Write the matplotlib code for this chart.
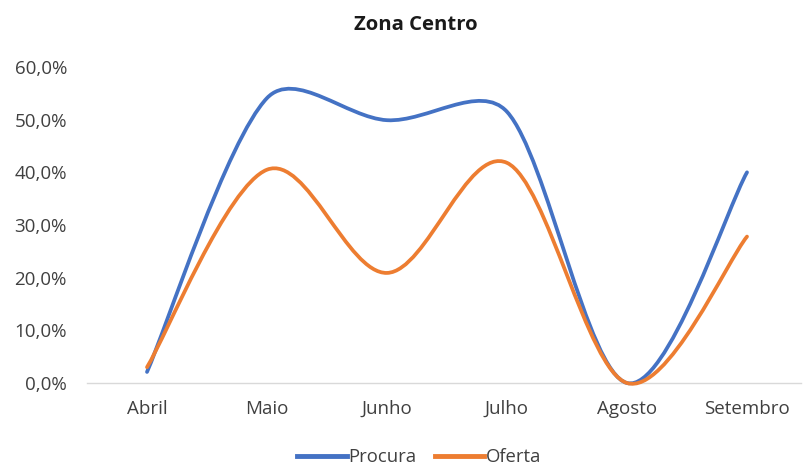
import numpy as np
import matplotlib
matplotlib.use("Agg")
import matplotlib.pyplot as plt
from matplotlib.path import Path
from matplotlib.patches import PathPatch
from matplotlib.lines import Line2D
from matplotlib.ticker import FuncFormatter

plt.rcParams['font.family'] = ['Open Sans', 'DejaVu Sans']

months = ["Abril", "Maio", "Junho", "Julho", "Agosto", "Setembro"]
procura = [0.021, 0.541, 0.499, 0.515, 0.0, 0.40]
oferta = [0.030, 0.405, 0.209, 0.418, 0.0, 0.278]
series_names = ["Procura", "Oferta"]
colors = ["#4472C4", "#ED7D31"]
yticks = [0.0, 0.1, 0.2, 0.3, 0.4, 0.5, 0.6]

fig = plt.figure(figsize=(8.04, 4.65), dpi=100)
ax = fig.add_axes([87/804, 1-383/465, (807-87)/804, (383-67)/465])
ax.set_xlim(-0.5, len(months)-0.5)
ax.set_ylim(0, 0.6)


def smooth_path(xs, ys, ax):
    # Excel-like smoothing: Catmull-Rom tangents, arm length limited by
    # adjacent segment length (display space).
    data = np.column_stack([xs, ys]).astype(float)
    disp = ax.transData.transform(data)
    n = len(disp)
    cin = [None]*n
    cout = [None]*n
    for i in range(n):
        p_prev = disp[i-1] if i > 0 else disp[i]
        p_next = disp[i+1] if i < n-1 else disp[i]
        t = p_next - p_prev
        tl = np.linalg.norm(t)
        u = t / tl if tl > 0 else t
        d1 = np.linalg.norm(disp[i] - p_prev)
        d2 = np.linalg.norm(p_next - disp[i])
        cout[i] = disp[i] + u * min(tl / 6.0, d2 / 3.0)
        cin[i] = disp[i] - u * min(tl / 6.0, d1 / 3.0)
    verts = [disp[0]]
    codes = [Path.MOVETO]
    for i in range(n-1):
        verts += [cout[i], cin[i+1], disp[i+1]]
        codes += [Path.CURVE4]*3
    verts = ax.transData.inverted().transform(np.array(verts))
    return Path(verts, codes)


x = np.arange(len(months))
for vals, col in zip([procura, oferta], colors):
    patch = PathPatch(smooth_path(x, vals, ax), facecolor='none', edgecolor=col,
                      lw=2.7, capstyle='round', joinstyle='round', clip_on=False, zorder=3)
    ax.add_patch(patch)

ax.set_yticks(yticks)
ax.yaxis.set_major_formatter(FuncFormatter(lambda v, p: f"{v*100:.1f}%".replace('.', ',')))
ax.set_xticks(x)
ax.set_xticklabels(months)
for s in ['top', 'right', 'left']:
    ax.spines[s].set_visible(False)
ax.spines['bottom'].set_color('#D9D9D9')
ax.spines['bottom'].set_linewidth(1.0)
ax.spines['bottom'].set_bounds(-0.5, len(months)-0.55)
ax.tick_params(axis='both', length=0, labelsize=13.5, colors='#404040')
ax.tick_params(axis='y', pad=14.4)
ax.tick_params(axis='x', pad=12)

fig.text(416/804, 1-25/465, "Zona Centro", ha='center', va='center',
         fontsize=14.6, fontweight='bold', color='#1a1a1a')

handles = [Line2D([], [], color=c, lw=3.5) for c in colors]
leg = fig.legend(handles, series_names, loc='center', bbox_to_anchor=(419/804, 1-457/465),
                 ncol=2, frameon=False, fontsize=13.3, handlelength=2.7, handletextpad=0.05,
                 columnspacing=1.0)
for t in leg.get_texts():
    t.set_color('#404040')

fig.savefig("out.png", dpi=100)
